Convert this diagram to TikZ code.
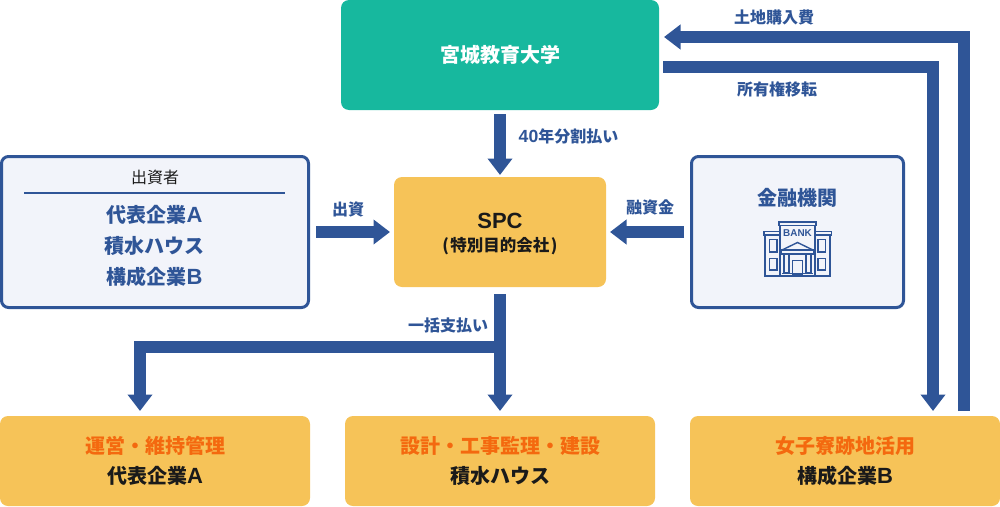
\documentclass[tikz,border=0pt]{standalone}
\usepackage{fontspec}
\setmainfont{Noto Sans CJK JP}
\newfontfamily\lat[Scale=1.1]{Liberation Sans}
\usepackage{tikz}
\usetikzlibrary{
        arrows.meta,
        positioning
    }
\definecolor{navy}{HTML}{2F5597}
\definecolor{teal}{HTML}{17B89E}
\definecolor{sand}{HTML}{F6C358}
\definecolor{pale}{HTML}{F2F4FA}
\definecolor{flame}{HTML}{F4690F}
\definecolor{ink}{HTML}{1A1A1A}
\tikzset{x=1pt,y=-1pt,>={Triangle[length=16.5pt,width=24pt]}}
\tikzset{flow/.style={->,navy,line width=12pt,line join=miter}}
\tikzset{lbl/.style={navy,font=\bfseries\fontsize{16}{18}\selectfont,inner sep=0pt}}
\tikzset{solid box/.style={rounded corners=8pt,align=center,text=ink,inner sep=0pt,outer sep=0pt,font=\bfseries\fontsize{20}{30}\selectfont}}
\tikzset{sand box/.style={solid box,fill=sand,minimum width=310pt,minimum height=90pt}}
\tikzset{line box/.style={draw=navy,fill=pale,line width=3pt,rounded corners=7pt,minimum height=151pt}}
\tikzset{icon/.style={navy,line width=1.4pt,fill=pale}}
\newcommand{\headtxt}[1]{{\color{flame}#1}}

\begin{document}
\begin{tikzpicture}
        \useasboundingbox (0,0) rectangle (1000,506);
        % boxes
        \node[solid box,fill=teal,text=white,minimum width=318pt,minimum height=110pt] (univ) at (500,55) {宮城教育大学};
        \node[solid box,fill=sand,minimum width=212pt,minimum height=110pt] (spc) at (500,232) {};
        \node[inner sep=0pt,font=\bfseries\fontsize{20}{24}\selectfont,text=ink] (spcname) at (500,221) {\lat SPC};
        \node[inner sep=0pt,font=\bfseries\fontsize{16.5}{20}\selectfont,text=ink] (spcsub) at (500,246) {(\kern1.5pt 特別目的会社\kern1.5pt)};
        \node[line box,minimum width=307pt] (invest) at (155,232) {};
        \node[line box,minimum width=212pt] (bank) at (797.5,232) {};
        \node[sand box] (oper) at (155,461) {\headtxt{運営・維持管理}\\代表企業{\lat A}};
        \node[sand box] (design) at (500,461) {\headtxt{設計・工事監理・建設}\\積水ハウス};
        \node[sand box] (reuse) at (845,461) {\headtxt{女子寮跡地活用}\\構成企業{\lat B}};
        % investor box
        \node[inner sep=0pt,text=ink,font=\fontsize{16}{18}\selectfont] (investhead) at (155,177) {出資者};
        \coordinate (ruleleft) at (24,193);
        \coordinate (ruleright) at (285,193);
        \draw[navy,line width=2pt] (ruleleft) -- (ruleright);
        \node[inner sep=0pt,align=center,text=navy,font=\bfseries\fontsize{20}{31}\selectfont] (investors) at (154.5,246) {代表企業{\lat A}\\積水ハウス\\構成企業{\lat B}};
        % bank box
        \node[inner sep=0pt,text=navy,font=\bfseries\fontsize{20}{24}\selectfont] (bankname) at (797.5,198) {金融機関};
        \draw[icon] (765,233) rectangle (830,276);
        \draw[icon] (764,231.5) rectangle (831.5,235);
        \draw[icon] (780,224) rectangle (815,276);
        \draw[icon] (779,222) rectangle (816,225.5);
        \draw[icon] (769.5,239.5) rectangle (777,252);
        \draw[icon] (769.5,258.5) rectangle (777,270);
        \draw[icon] (818,239.5) rectangle (825.5,252);
        \draw[icon] (818,258.5) rectangle (825.5,270);
        \draw[icon] (782,250) -- (797.5,242.5) -- (813,250) -- cycle;
        \draw[icon] (781,250) rectangle (814,254);
        \draw[icon] (784,254) rectangle (789,273);
        \draw[icon] (806,254) rectangle (811,273);
        \draw[icon] (792.5,260.5) rectangle (802.5,275);
        \draw[icon] (782,273.5) -- (813,273.5);
        \node[inner sep=0pt,text=navy,font=\bfseries\fontsize{9}{10}\selectfont] (banktxt) at (797.5,233.5) {\lat BANK};
        % named ends
        \coordinate (landstart) at (964,416);
        \coordinate (landturn) at (964,37);
        \coordinate (landend) at (659,37);
        \coordinate (deedstart) at (663,67);
        \coordinate (deedturn) at (933,67);
        \coordinate (deedend) at (933,416);
        \coordinate (paysplit) at (500,347);
        \coordinate (payturn) at (140,347);
        \coordinate (payend) at (140,416);
        % arrows
        \draw[flow,shorten <=4pt,shorten >=2pt] (univ.south) -- (spc.north);
        \draw[flow,shorten <=6pt,shorten >=4pt] (invest.east) -- (spc.west);
        \draw[flow,shorten <=6pt,shorten >=4pt] (bank.west) -- (spc.east);
        \draw[flow,shorten <=7pt,shorten >=5pt] (spc.south) -- (design.north);
        \draw[flow,shorten >=5pt] (paysplit) -- (payturn) -- (payend);
        \draw[flow,shorten <=5pt,shorten >=5pt] (landstart) -- (landturn) -- (landend);
        \draw[flow,shorten >=5pt] (deedstart) -- (deedturn) -- (deedend);
        % labels
        \node[lbl] (lblplan) at (568.5,136.5) {{\lat 40}年分割払い};
        \node[lbl] (lblfund) at (348,209) {出資};
        \node[lbl] (lblloan) at (650,207) {融資金};
        \node[lbl] (lblpay) at (448,325) {一括支払い};
        \node[lbl] (lblland) at (774,17) {土地購入費};
        \node[lbl] (lbldeed) at (777,89) {所有権移転};
\end{tikzpicture}
\end{document}
